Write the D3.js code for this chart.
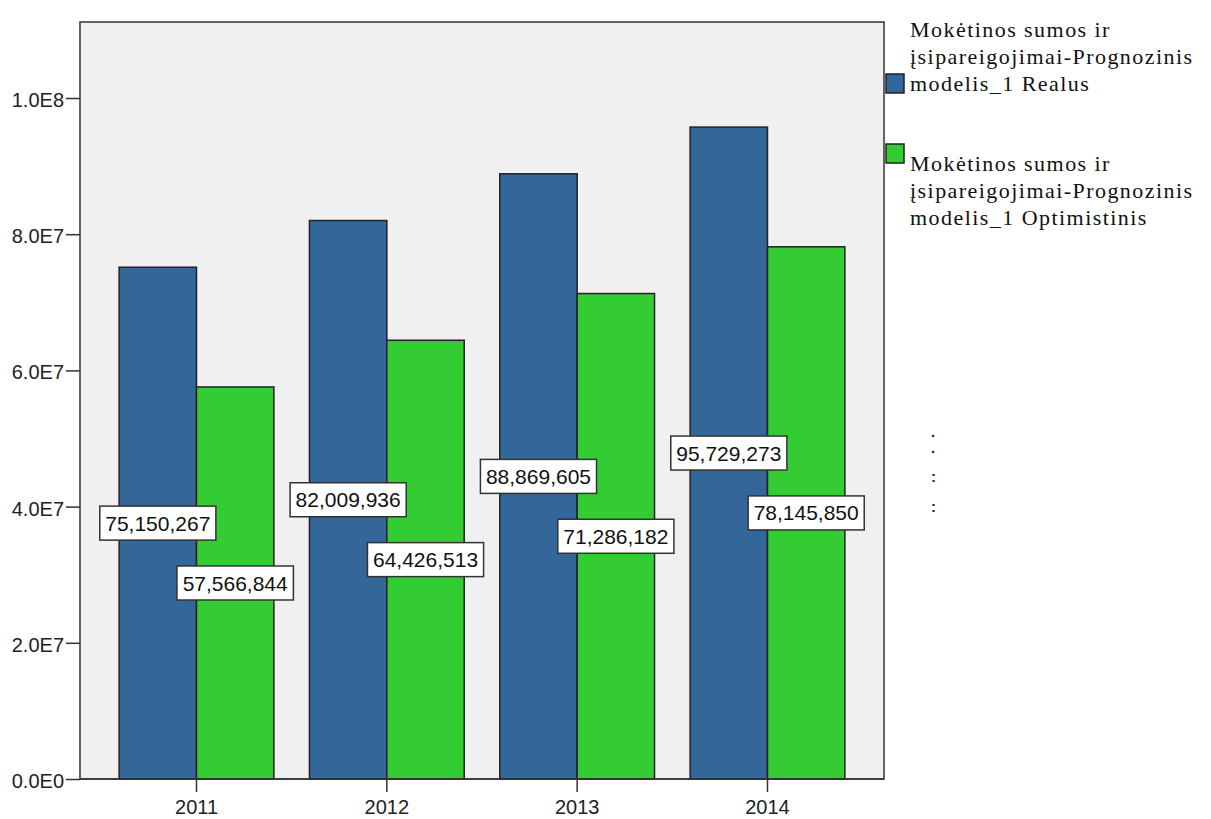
<!DOCTYPE html>
<html><head><meta charset="utf-8">
<script src="https://cdn.jsdelivr.net/npm/d3@7/dist/d3.min.js"></script>
<style>body{margin:0;background:#fff}svg{display:block}</style>
</head><body>
<svg id="c" width="1211" height="819"></svg>
<script>
const categories = ["2011","2012","2013","2014"];
const seriesNames = [
  ["Mokėtinos sumos ir","įsipareigojimai-Prognozinis","modelis_1 Realus"],
  ["Mokėtinos sumos ir","įsipareigojimai-Prognozinis","modelis_1 Optimistinis"]
];
const realus = [75150267, 82009936, 88869605, 95729273];
const optimistinis = [57566844, 64426513, 71286182, 78145850];
const yTicks = [0, 2e7, 4e7, 6e7, 8e7, 1e8];
const yTickLabels = ["0.0E0","2.0E7","4.0E7","6.0E7","8.0E7","1.0E8"];
const colors = ["#336699", "#33cc33"];

const svg = d3.select("#c");
const L = 80, R = 884, T = 22, B = 779;
const x = d3.scaleBand().domain(categories).range([L, R]).paddingInner(0.187).paddingOuter(0.2056);
const x1 = d3.scaleBand().domain([0,1]).range([0, x.bandwidth()]);
const y = d3.scaleLinear().domain([0, 1.1116e8]).range([B, T]);

svg.append("rect").attr("x", L).attr("y", T).attr("width", R-L).attr("height", B-T)
  .attr("fill", "#f0f0f0").attr("stroke", "#333").attr("stroke-width", 1.5);

const series = [realus, optimistinis];
const fmt = d3.format(",");
series.forEach((vals, si) => {
  svg.append("g").selectAll("rect").data(vals).join("rect")
    .attr("x", (d,i) => x(categories[i]) + x1(si))
    .attr("y", d => y(d))
    .attr("width", x1.bandwidth())
    .attr("height", d => B - y(d))
    .attr("fill", colors[si]).attr("stroke", "#222").attr("stroke-width", 1.5);
});

// y axis
const yAxis = d3.axisLeft(y).tickValues(yTicks).tickFormat((d,i) => yTickLabels[i]).tickSize(14).tickPadding(2);
const gy = svg.append("g").attr("transform", `translate(${L},0)`).call(yAxis);
gy.select(".domain").remove();
gy.selectAll("line").attr("stroke", "#333").attr("stroke-width", 1.5);
gy.selectAll("text").attr("font-family", "Arial, 'Liberation Sans', sans-serif").attr("font-size", 20).attr("fill", "#222").attr("dy", "0.42em");

// x axis
const xAxis = d3.axisBottom(x).tickSize(13).tickPadding(8);
const gx = svg.append("g").attr("transform", `translate(0,${B})`).call(xAxis);
gx.select(".domain").attr("stroke", "#333").attr("stroke-width", 1.5).attr("d", `M${L},0H${R}`);
gx.selectAll("line").attr("stroke", "#333").attr("stroke-width", 1.5);
gx.selectAll("text").attr("font-family", "Arial, 'Liberation Sans', sans-serif").attr("font-size", 20).attr("fill", "#222");

// value labels
series.forEach((vals, si) => {
  vals.forEach((v, i) => {
    const cx = x(categories[i]) + x1(si) + x1.bandwidth()/2;
    const cy = (y(v) + B) / 2;
    const g = svg.append("g");
    const t = g.append("text").attr("x", cx).attr("y", cy).attr("text-anchor", "middle").attr("dy", "0.36em")
      .attr("font-family", "Arial, 'Liberation Sans', sans-serif").attr("font-size", 21).attr("fill", "#111")
      .text(fmt(v));
    const bb = t.node().getBBox();
    g.insert("rect", "text").attr("x", cx - bb.width/2 - 5.5).attr("y", cy - 17).attr("width", bb.width + 11).attr("height", 34)
      .attr("fill", "#fff").attr("stroke", "#333").attr("stroke-width", 1.5);
  });
});

// legend
const legTops = [74, 144];
const legLines = [[37, 64, 91], [171, 198, 225]];
seriesNames.forEach((lines, si) => {
  svg.append("rect").attr("x", 886).attr("y", legTops[si]).attr("width", 18).attr("height", 19)
    .attr("fill", colors[si]).attr("stroke", "#222").attr("stroke-width", 1.5);
  lines.forEach((ln, li) => {
    svg.append("text").attr("x", 910).attr("y", legLines[si][li])
      .attr("font-family", "'Liberation Serif', 'Times New Roman', serif").attr("font-size", 22)
      .attr("letter-spacing", 1.45).attr("fill", "#111").text(ln);
  });
});

// dots
const dots = [[437, "."], [453, "."], [482, ":"], [512, ":"]];
dots.forEach(d => {
  svg.append("text").attr("x", 931).attr("y", d[0]).attr("font-family", "Arial, sans-serif").attr("font-size", 15).attr("font-weight", "bold").attr("fill", "#222").text(d[1]);
});
</script>
</body></html>
